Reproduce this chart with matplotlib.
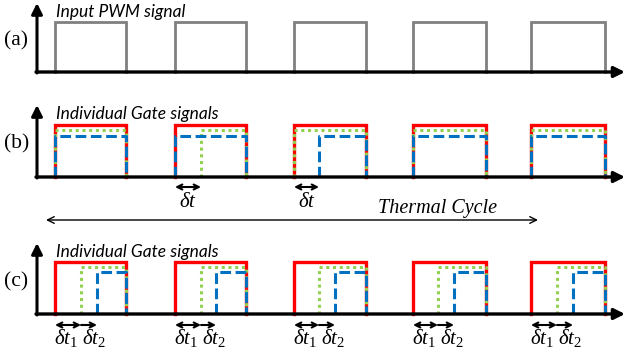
import matplotlib
matplotlib.use("Agg")
import matplotlib.pyplot as plt

plt.rcParams['mathtext.fontset'] = 'custom'
plt.rcParams['mathtext.it'] = 'Liberation Serif:italic'
plt.rcParams['mathtext.rm'] = 'Liberation Serif'

# Data (time positions in figure px units)
pulse_on = [55, 175, 294, 413, 531]
pulse_off = [126, 246, 366, 486, 605]
b_green_delay = [0, 26, 0, 0, 0]
b_blue_delay = [0, 0, 25, 0, 0]
c_green_delay = [26, 26, 25, 25, 26]
c_blue_delay = [42, 41, 41, 41, 42]

panel_labels = ["(a)", "(b)", "(c)"]
panel_titles = ["Input PWM signal", "Individual Gate signals", "Individual Gate signals"]

# layout (px)
base = [72, 177, 314]
tip = [3, 105, 243]
hi_a = 22
hi_b = [125, 130, 136]
hi_c = [262, 267, 272]
x_axis0, x_axis1 = 37, 625

RED = "#ff0000"
GREEN = "#92d050"
BLUE = "#0070c0"
GREY = "#808080"

fig = plt.figure(figsize=(6.27, 3.58), dpi=100)
ax = fig.add_axes([0, 0, 1, 1])
ax.set_xlim(0, 627)
ax.set_ylim(358, 0)
ax.axis("off")


def draw_signal(y0, y1, delays, **kw):
    for on, off, d in zip(pulse_on, pulse_off, delays):
        ax.plot([on + d, on + d, off, off], [y0, y1, y1, y0], **kw)


# (a)
draw_signal(base[0], hi_a, [0] * 5, color=GREY, lw=2.0, solid_joinstyle="miter")

# (b)
draw_signal(base[1], hi_b[0], [0] * 5, color=RED, lw=2.4, solid_joinstyle="miter")
draw_signal(base[1], hi_b[1], b_green_delay, color=GREEN, lw=2.2, ls=(0, (1, 1.2)))
draw_signal(base[1], hi_b[2], b_blue_delay, color=BLUE, lw=2.2, ls=(0, (3.5, 1.5)))

# (c)
draw_signal(base[2], hi_c[0], [0] * 5, color=RED, lw=2.4, solid_joinstyle="miter")
draw_signal(base[2], hi_c[1], c_green_delay, color=GREEN, lw=2.2, ls=(0, (1, 1.2)))
draw_signal(base[2], hi_c[2], c_blue_delay, color=BLUE, lw=2.2, ls=(0, (3.5, 1.5)))

# axes arrows
for i in range(3):
    ax.annotate("", xy=(x_axis1, base[i]), xytext=(x_axis0 - 1, base[i]),
                arrowprops=dict(arrowstyle="-|>", color="black", lw=2.4,
                                mutation_scale=16, shrinkA=0, shrinkB=0))
    ax.annotate("", xy=(x_axis0, tip[i]), xytext=(x_axis0, base[i] + 1),
                arrowprops=dict(arrowstyle="-|>", color="black", lw=2.2,
                                mutation_scale=16, shrinkA=0, shrinkB=0))
    ax.text(4, (base[i] + tip[i]) / 2 + 3, panel_labels[i], family="Liberation Serif",
            fontsize=15.5, ha="left", va="center")
    ax.text(56, tip[i] + 9, panel_titles[i], family="Lato", style="italic",
            fontsize=12.5, ha="left", va="center")

# (b) delta t arrows
dbl = dict(arrowstyle="<->", color="black", lw=1.5, mutation_scale=9, shrinkA=0, shrinkB=0)
one = dict(arrowstyle="->", color="black", lw=1.5, mutation_scale=9, shrinkA=0, shrinkB=0)
for on, dg, db in zip(pulse_on, b_green_delay, b_blue_delay):
    d = max(dg, db)
    if d > 0:
        ax.annotate("", xy=(on + d, 187), xytext=(on, 187), arrowprops=dbl)
        ax.text(on + d / 2, 201, r"$\delta t$", fontsize=15, ha="center", va="center")

# Thermal cycle arrow
ax.annotate("", xy=(538, 220), xytext=(46, 220),
            arrowprops=dict(arrowstyle="<->", color="black", lw=1.0, mutation_scale=12,
                            shrinkA=0, shrinkB=0))
ax.text(437, 208, "Thermal Cycle", family="Liberation Serif", style="italic",
        fontsize=14.5, ha="center", va="center")

# (c) delta t arrows
for on, dg, db in zip(pulse_on, c_green_delay, c_blue_delay):
    ax.annotate("", xy=(on + dg, 325), xytext=(on, 325), arrowprops=dbl)
    ax.annotate("", xy=(on + db, 325), xytext=(on + dg, 325), arrowprops=one)
    ax.text(on + 11, 338, r"$\delta t_{\mathit{1}}$", fontsize=15, ha="center", va="center")
    ax.text(on + 39, 338, r"$\delta t_{\mathit{2}}$", fontsize=15, ha="center", va="center")

fig.savefig("out.png", dpi=100)
